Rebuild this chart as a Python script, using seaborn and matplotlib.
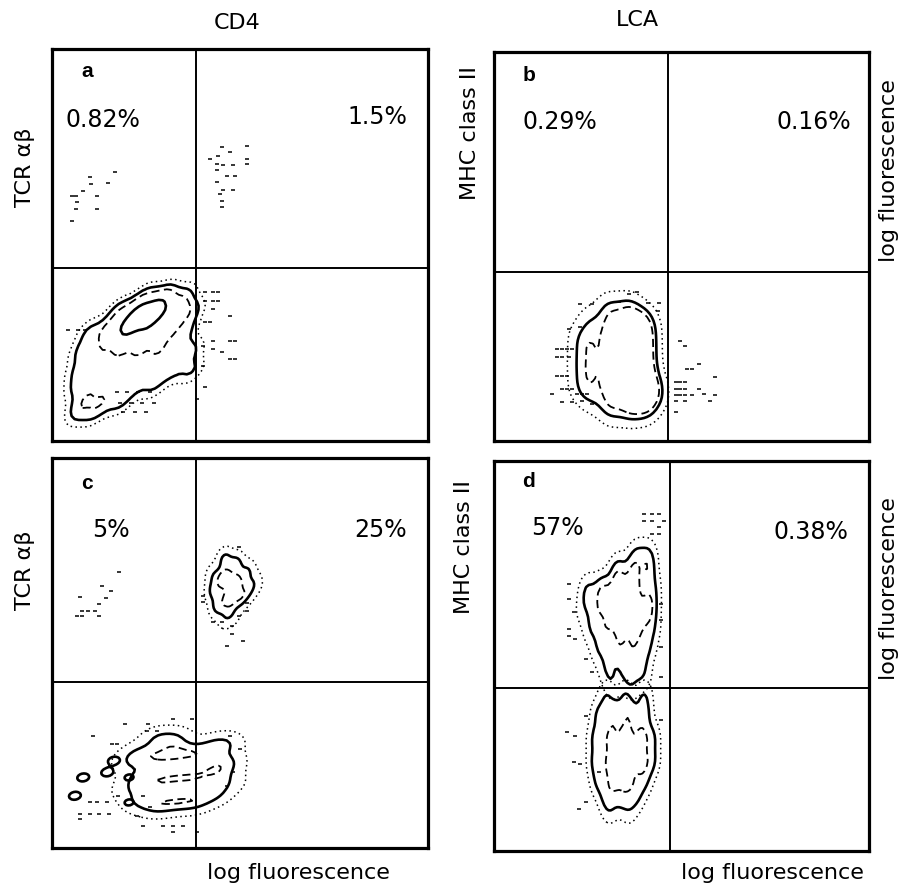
import matplotlib
matplotlib.use("Agg")
import matplotlib.pyplot as plt
import seaborn as sns

sns.set_theme(style="white")
plt.rcParams["font.family"] = ["DejaVu Sans"]
plt.rcParams["text.color"] = "black"

# ---------------------------------------------------------------------------
# Panel annotations (channel scale 0-100 on both axes of every panel)
# ---------------------------------------------------------------------------
panel_letters = ["a", "b", "c", "d"]
col_titles = ["CD4", "LCA"]
row_labels = ["TCR αβ", "MHC class II"]
axis_label = "log fluorescence"

gate_x = [38.3, 46.4, 38.3, 46.9]
gate_y = [44.1, 43.4, 42.6, 41.8]
pct_upper_left = ["0.82%", "0.29%", "5%", "57%"]
pct_upper_right = ["1.5%", "0.16%", "25%", "0.38%"]

# ---------------------------------------------------------------------------
# Event populations: weighted event positions, contoured by density
# ---------------------------------------------------------------------------
# a: TCR- CD4- population, lower-left quadrant
a_main_x = [7, 11,
            8, 13, 18,
            7, 12, 17, 22, 27,
            7, 12, 17, 22, 27, 32, 37,
            8, 13, 18, 23, 28, 33, 37,
            10, 15, 20, 25, 30, 35,
            18, 23, 28, 33, 37,
            25, 30, 35,
            20, 25, 28]
a_main_y = [7, 7,
            10, 10, 10,
            14, 14, 14, 14, 14,
            18, 18, 18, 18, 18, 18, 18,
            23, 23, 23, 23, 23, 23, 23,
            28, 28, 28, 28, 28, 28,
            33, 33, 33, 33, 33,
            37, 37, 37,
            29.5, 32, 34]
a_main_w = [0.8, 0.8,
            1.2, 1.2, 1.1,
            1.1, 1.1, 1.0, 0.9, 0.9,
            1, 1, 1, 1, 1, 1, 1,
            1.1, 1.3, 1.5, 1.5, 1.5, 1.3, 1,
            1, 2, 3, 3, 2, 1.2,
            1.5, 4, 4, 2.5, 1.2,
            1, 1.5, 1,
            3, 4, 2]

# a: isolated events
a_ev_x = [5.2, 6.5, 6.7, 6.5, 5.2, 8.3, 10.1, 10.3, 11.9, 11.9, 15.0, 16.8,
          42.0, 44.2, 45.1, 47.3, 51.8, 51.8, 43.8, 45.6, 48.2, 43.8, 46.5, 48.7,
          43.8, 45.6, 48.2, 44.7, 45.1, 45.1, 51.8,
          40.7, 42.9, 44.2, 40.7, 42.9, 44.2, 42.9, 40.7, 42.0, 47.3, 47.3, 48.7,
          42.9, 40.2, 42.9, 45.1, 47.3, 48.7, 40.2, 40.7, 38.5,
          17.2, 20.0, 23.0, 26.0, 18.0, 21.0, 24.0, 27.0, 19.0, 22.0, 25.0, 4.3, 7.0, 8.7]
a_ev_y = [62.6, 62.6, 60.9, 59.2, 56.2, 63.8, 67.3, 65.6, 62.6, 59.2, 65.8, 68.7,
          71.9, 72.8, 74.9, 73.6, 75.3, 71.9, 70.7, 70.5, 70.5, 69.0, 67.5, 67.5,
          66.0, 64.1, 64.1, 63.0, 61.3, 59.6, 70.7,
          37.9, 37.9, 37.9, 35.8, 35.8, 35.8, 33.7, 30.3, 30.3, 32.0, 25.6, 25.6,
          25.6, 24.3, 23.5, 22.6, 20.9, 20.9, 19.2, 13.7, 10.7,
          12.4, 12.4, 12.4, 12.4, 9.8, 9.8, 9.8, 9.8, 7.3, 7.3, 7.3, 28.4, 28.4, 28.4]

# b: class II negative population
b_main_x = [23, 23, 23, 26, 26, 26, 26, 31, 31, 31, 31, 31, 36, 36, 36, 36, 36,
            40, 40, 40, 40, 40, 42.5]
b_main_y = [14, 20, 26, 12, 18, 24, 30, 9, 15, 21, 27, 33, 9, 15, 21, 27, 33,
            10, 15, 20, 25, 30, 13]
b_main_w = [0.8, 0.8, 0.8, 1, 1, 1, 1, 1.5, 1.5, 1.5, 1.5, 1.5, 1.7, 1.7, 1.7, 1.7, 1.7,
            2, 2, 2, 2, 2, 1.5]

b_ev_x = [49.7, 51.0, 54.6, 51.5, 52.8, 48.4, 49.7, 51.0, 48.4, 49.7, 51.0, 48.4, 49.7,
          51.0, 52.8, 54.6, 59.0, 55.9, 59.0, 57.7, 48.4, 51.0, 48.4,
          23.0, 26.1, 23.0, 19.9, 16.8, 18.1, 19.5, 20.8, 16.8, 18.1, 19.9, 16.8, 18.1,
          19.5, 15.5, 18.1, 19.5, 20.8, 22.1, 23.5, 24.8, 18.1, 20.8, 23.5, 26.1,
          33.2, 35.9, 38.1, 41.0, 44.1, 43.6]
b_ev_y = [25.8, 24.5, 19.8, 18.5, 18.5, 15.1, 15.1, 15.1, 13.4, 13.4, 13.4, 11.7, 11.7,
          11.7, 11.7, 13.4, 16.4, 12.1, 11.7, 10.4, 10.4, 10.4, 7.4,
          35.2, 35.2, 29.2, 28.8, 23.7, 23.7, 23.7, 23.7, 21.5, 21.5, 21.5, 16.8, 16.8,
          16.8, 12.1, 13.4, 13.4, 13.4, 12.1, 12.1, 12.1, 9.9, 9.9, 10.4, 9.6,
          35.6, 37.8, 38.3, 35.5, 35.5, 33.5]

# c: TCR+ CD4+ population (upper right)
c_ur_x = [43, 43, 46, 49, 52, 54, 46, 49, 44, 47, 50, 52, 46, 48]
c_ur_y = [66, 70, 74, 73, 71, 68, 69, 68, 62, 64, 64, 66, 59, 60]
c_ur_w = [1.5, 1, 1.5, 1.5, 1.2, 0.8, 3, 2.5, 1.5, 2.5, 1.5, 1.2, 0.8, 0.8]

# c: TCR- population (lower left)
c_low_x = [20, 20, 23, 23, 23, 28, 28, 28, 28, 33, 33, 33, 33, 38, 38, 38,
           43, 43, 43, 47, 47, 47]
c_low_y = [15, 22, 12, 18, 24, 11, 17, 23, 28, 12, 18, 24, 28, 12, 18, 24,
           14, 20, 26, 17, 22, 27]
c_low_w = [0.8, 0.8, 1.2, 1.2, 1.2, 1.5, 1.5, 1.5, 1.2, 1.5, 1.5, 1.5, 1.2, 1.5, 1.5, 1.5,
           1.4, 1.5, 1.3, 1.0, 1.2, 0.9]

c_left_x = [8.3, 6.1, 14.7, 16.5, 20.5, 20.5]
c_left_y = [18.1, 13.4, 19.4, 22.4, 18.1, 11.7]
c_left_w = [1, 1, 1, 1, 0.8, 0.8]

c_ev_x = [17.9, 13.2, 15.8, 14.4, 12.6, 7.4, 7.9, 9.7, 11.4, 6.6, 7.9, 12.6,
          42.9, 45.1, 47.8, 49.6, 51.8, 51.8, 47.8, 50.9, 46.5, 40.2, 40.2, 49.6,
          19.4, 25.6, 32.3, 37.2, 11.0, 15.9, 17.2, 25.2, 27.8, 47.3, 50.0, 48.2, 46.5,
          10.1, 11.9, 14.5, 17.6, 24.3, 26.1, 7.4, 10.1, 12.4, 15.1, 22.5, 24.3, 29.6,
          32.3, 34.9, 32.3, 38.5, 7.4]
c_ev_y = [70.7, 67.3, 65.8, 64.1, 62.6, 64.3, 60.9, 60.9, 60.9, 59.6, 59.6, 59.6,
          58.0, 58.0, 57.0, 59.6, 60.9, 62.8, 54.9, 53.2, 51.7, 64.7, 63.0, 77.1,
          31.8, 31.8, 33.1, 33.1, 28.8, 26.7, 26.7, 30.1, 30.1, 28.8, 25.4, 19.4, 16.0,
          11.7, 11.7, 11.7, 13.4, 13.4, 10.4, 8.7, 8.7, 8.7, 8.7, 8.3, 5.7, 5.7,
          5.7, 5.7, 4.0, 4.0, 7.4]

# d: class II high (upper lobe) and class II low (lower lobe) populations
d_up_x = [38, 41,
          33, 37, 41,
          25, 29, 33, 37, 42,
          24, 28, 32, 36, 40, 42,
          26, 30, 34, 38, 42,
          28, 33, 37, 41,
          30, 35, 39,
          31, 36, 40,
          32, 37]
d_up_y = [76, 76,
          72, 72, 72,
          67, 67, 67, 67, 67,
          62, 62, 62, 62, 62, 62,
          57, 57, 57, 57, 57,
          52, 52, 52, 52,
          48, 48, 48,
          44.5, 44.5, 44.5,
          41.5, 41.5]
d_up_w = [1, 1,
          1.5, 1.5, 1.5,
          1.2, 2, 2.5, 2.5, 1.2,
          0.8, 1.5, 2.5, 2.5, 2, 1,
          1, 1.5, 2, 2, 1,
          1, 1.3, 1.3, 1,
          0.9, 1, 0.9,
          0.7, 0.8, 0.7,
          0.5, 0.5]

d_low_x = [30, 35, 40,
           28, 32, 36, 40,
           27, 31, 35, 39, 42,
           27, 31, 35, 39, 42,
           28, 32, 36, 40,
           30, 34, 38,
           31, 36]
d_low_y = [40, 40, 40,
           35, 35, 35, 35,
           29, 29, 29, 29, 29,
           23, 23, 23, 23, 23,
           18, 18, 18, 18,
           14, 14, 14,
           10.5, 10.5]
d_low_w = [0.8, 0.8, 0.8,
           1, 1.4, 1.4, 1.1,
           1, 1.8, 2.2, 1.8, 1,
           1, 1.8, 2.2, 1.8, 1,
           1, 1.5, 1.5, 0.9,
           0.9, 1, 0.8,
           0.6, 0.6]

d_ev_x = [39.9, 42.1, 43.9, 39.9, 42.1, 43.9, 42.1, 45.3, 43.9,
          19.9, 19.9, 19.9, 19.9, 21.7, 21.2, 24.4, 26.1, 19.5, 21.7, 21.2, 23.0,
          22.6, 24.4, 27.9, 24.4, 44.4, 44.4, 44.4, 44.4, 44.4]
d_ev_y = [86.4, 86.4, 86.4, 84.7, 84.7, 83.0, 81.3, 84.7, 81.3,
          68.5, 64.6, 56.9, 55.2, 54.4, 61.2, 49.2, 45.8, 30.4, 29.6, 22.7, 22.3,
          10.8, 12.6, 20.2, 34.7, 63.3, 59.1, 52.3, 44.6, 33.6]

# ---------------------------------------------------------------------------
# Drawing helpers
# ---------------------------------------------------------------------------
LINE = {
    "dot": ((0, (1, 2.2)), 1.1),
    "solid": ("-", 1.9),
    "dash": ((0, (4.5, 2.5)), 1.3),
}


def density_contours(ax, x, y, w, levels, styles, bw):
    sns.kdeplot(
        x=x, y=y, weights=w, levels=levels, bw_method=bw, ax=ax,
        color="black", gridsize=45, cut=3,
        linestyles=[LINE[s][0] for s in styles],
        linewidths=[LINE[s][1] for s in styles],
    )


def events(ax, x, y):
    sns.scatterplot(x=x, y=y, ax=ax, marker="_", s=9, linewidth=1.1,
                    color="black", legend=False)


fig = plt.figure(figsize=(9.04, 8.87), dpi=100)
positions = [
    [0.0575, 0.5017, 0.4160, 0.4420],
    [0.5465, 0.5017, 0.4148, 0.4386],
    [0.0575, 0.0428, 0.4160, 0.4397],
    [0.5465, 0.0395, 0.4148, 0.4397],
]
axes = [fig.add_axes(p) for p in positions]

density_contours(axes[0], a_main_x, a_main_y, a_main_w,
                 [0.03, 0.1, 0.45, 0.78], ["dot", "solid", "dash", "solid"], 0.3)
events(axes[0], a_ev_x, a_ev_y)

density_contours(axes[1], b_main_x, b_main_y, b_main_w,
                 [0.04, 0.15, 0.32], ["dot", "solid", "dash"], 0.42)
events(axes[1], b_ev_x, b_ev_y)

density_contours(axes[2], c_ur_x, c_ur_y, c_ur_w,
                 [0.04, 0.25, 0.65], ["dot", "solid", "dash"], 0.45)
density_contours(axes[2], c_low_x, c_low_y, c_low_w,
                 [0.05, 0.25, 0.88], ["dot", "solid", "dash"], 0.38)
density_contours(axes[2], c_left_x, c_left_y, c_left_w,
                 [0.6], ["solid"], 0.25)
events(axes[2], c_ev_x, c_ev_y)

density_contours(axes[3], d_up_x, d_up_y, d_up_w,
                 [0.04, 0.18, 0.55], ["dot", "solid", "dash"], 0.33)
density_contours(axes[3], d_low_x, d_low_y, d_low_w,
                 [0.04, 0.18, 0.6], ["dot", "solid", "dash"], 0.35)
events(axes[3], d_ev_x, d_ev_y)

for i, ax in enumerate(axes):
    ax.set_xlim(0, 100)
    ax.set_ylim(0, 100)
    ax.set_xticks([])
    ax.set_yticks([])
    ax.set_xlabel("")
    ax.set_ylabel("")
    for sp in ax.spines.values():
        sp.set_visible(True)
        sp.set_color("black")
        sp.set_linewidth(2.3)
    ax.axvline(gate_x[i], color="black", lw=1.4)
    ax.axhline(gate_y[i], color="black", lw=1.4)

# panel letters and quadrant percentages
letter_xy = [(0.093, 0.944), (0.093, 0.943), (0.093, 0.938), (0.093, 0.949)]
ul_xy = [(0.037, 0.821), (0.075, 0.823), (0.106, 0.818), (0.099, 0.831)]
ur_xy = [(0.944, 0.829), (0.952, 0.823), (0.944, 0.818), (0.944, 0.821)]
for i, ax in enumerate(axes):
    ax.text(*letter_xy[i], panel_letters[i], transform=ax.transAxes,
            ha="center", va="center", fontsize=15, fontweight="bold",
            family="Liberation Sans")
    ax.text(*ul_xy[i], pct_upper_left[i], transform=ax.transAxes,
            ha="left", va="center", fontsize=17)
    ax.text(*ur_xy[i], pct_upper_right[i], transform=ax.transAxes,
            ha="right", va="center", fontsize=17)

# column titles, row labels and axis labels
fig.text(0.262, 0.974, col_titles[0], ha="center", va="center", fontsize=16)
fig.text(0.7046, 0.9775, col_titles[1], ha="center", va="center", fontsize=16)
fig.text(0.0277, 0.8117, row_labels[0], rotation=90, ha="center", va="center", fontsize=16)
fig.text(0.0277, 0.3574, row_labels[0], rotation=90, ha="center", va="center", fontsize=16)
fig.text(0.520, 0.850, row_labels[1], rotation=90, ha="center", va="center", fontsize=16)
fig.text(0.513, 0.3833, row_labels[1], rotation=90, ha="center", va="center", fontsize=16)
fig.text(0.983, 0.808, axis_label, rotation=90, ha="center", va="center", fontsize=16)
fig.text(0.983, 0.337, axis_label, rotation=90, ha="center", va="center", fontsize=16)
fig.text(0.3296, 0.0158, axis_label, ha="center", va="center", fontsize=16)
fig.text(0.855, 0.0158, axis_label, ha="center", va="center", fontsize=16)

fig.savefig("out.png", dpi=100, facecolor="white")
